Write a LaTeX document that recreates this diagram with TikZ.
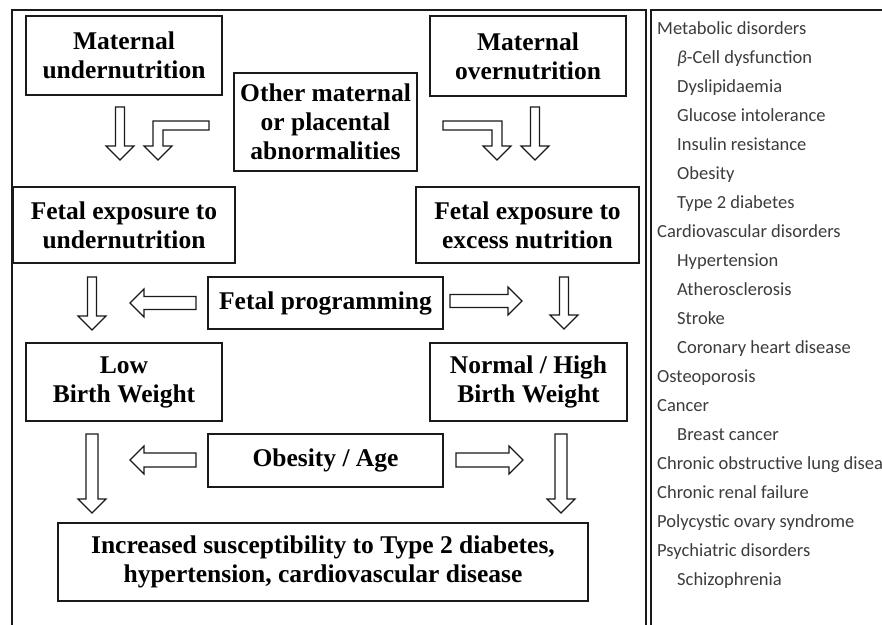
\documentclass[tikz,border=0pt]{standalone}
\usepackage{fontspec}
\setmainfont{Liberation Serif}
\newfontfamily\listfont{Carlito}
\usetikzlibrary{calc}
\definecolor{Ink}{HTML}{1A1A1A}
\definecolor{ListGray}{HTML}{3C3C3C}

\tikzset{
  blk/.style={draw=Ink, line width=1.3pt, fill=white, inner sep=0pt, align=center,
    font=\bfseries\fontsize{25.5}{29}\selectfont},
  hollow/.style={draw=Ink, line width=1.1pt, fill=white, line join=miter},
  frame/.style={draw=Ink, line width=1.5pt},
  item/.style={anchor=base west, inner sep=0pt, text=ListGray,
    font=\listfont\fontsize{18.5}{22}\selectfont}
}

% hollow block arrow: [shaft half width] {start} {tip}
\newcommand{\hollowarrow}[3][4.5]{%
  \path #2 coordinate (ha-s) #3 coordinate (ha-t);
  \path ($(ha-t)!14pt!(ha-s)$) coordinate (ha-h);
  \draw[hollow] ($(ha-s)!#1pt!90:(ha-t)$) -- ($(ha-h)!#1pt!90:(ha-t)$)
    -- ($(ha-h)!14pt!90:(ha-t)$) -- (ha-t) -- ($(ha-h)!14pt!-90:(ha-t)$)
    -- ($(ha-h)!#1pt!-90:(ha-t)$) -- ($(ha-s)!#1pt!-90:(ha-t)$) -- cycle;}

\begin{document}
\begin{tikzpicture}[x={(1pt,0)}, y={(0,-1pt)}]
  \useasboundingbox[fill=white] (0,0) rectangle (882,624);

  % panels
  \draw[frame] (12,630) -- (12,10) -- (646,10) -- (646,630);
  \draw[frame] (890,10) -- (651,10) -- (651,630);

  % boxes
  \node[blk, minimum width=196, minimum height=79] (mu) at (124,55.5) {Maternal\\undernutrition};
  \node[blk, minimum width=196, minimum height=80] (mo) at (528,56) {Maternal\\overnutrition};
  \node[blk, minimum width=183, minimum height=98] (oth) at (325.5,122) {Other maternal\\or placental\\abnormalities};
  \node[blk, minimum width=222, minimum height=76] (fu) at (124,225) {Fetal exposure to\\undernutrition};
  \node[blk, minimum width=223, minimum height=76] (fo) at (527.5,225) {Fetal exposure to\\excess nutrition};
  \node[blk, minimum width=235, minimum height=52] (fp) at (325.5,303) {Fetal programming};
  \node[blk, minimum width=196, minimum height=78] (lbw) at (124,382) {Low\\Birth Weight};
  \node[blk, minimum width=197, minimum height=78] (hbw) at (528.5,382) {Normal / High\\Birth Weight};
  \node[blk, minimum width=235, minimum height=53] (oa) at (325.5,460.5) {Obesity / Age};
  \node[blk, minimum width=530, minimum height=78] (res) at (323,562) {Increased susceptibility to Type 2 diabetes,\\hypertension, cardiovascular disease};

  % arrows, top row
  \hollowarrow{(120,107)}{(120,160)}
  \hollowarrow{(535,107)}{(535,160)}
  \draw[hollow] (209,121) -- (153,121) -- (153,146) -- (144,146) -- (158,160)
    -- (172,146) -- (163,146) -- (163,130) -- (209,130) -- cycle;
  \draw[hollow] (443,121) -- (502,121) -- (502,146) -- (511,146) -- (497,160)
    -- (483,146) -- (492,146) -- (492,130) -- (443,130) -- cycle;

  % arrows, middle row
  \hollowarrow{(92,277)}{(92,330)}
  \hollowarrow{(564,277)}{(564,329)}
  \hollowarrow[6.5]{(196,303)}{(130,303)}
  \hollowarrow[6.5]{(450,301)}{(522,301)}

  % arrows, bottom row
  \hollowarrow[6]{(92,434)}{(92,513)}
  \hollowarrow[6]{(561,434)}{(561,513)}
  \hollowarrow[7]{(196,460)}{(130,460)}
  \hollowarrow[7]{(456,460)}{(523,460)}

  % disease list
  \foreach \lvl/\txt [count=\i] in {0/Metabolic disorders, 1/{{\itshape β}-Cell dysfunction},
      1/Dyslipidaemia, 1/Glucose intolerance, 1/Insulin resistance, 1/Obesity,
      1/Type 2 diabetes, 0/Cardiovascular disorders, 1/Hypertension, 1/Atherosclerosis,
      1/Stroke, 1/Coronary heart disease, 0/Osteoporosis, 0/Cancer, 1/Breast cancer,
      0/Chronic obstructive lung disease, 0/Chronic renal failure,
      0/Polycystic ovary syndrome, 0/Psychiatric disorders, 1/Schizophrenia}
    \node[item] (it\i) at ({657+20*\lvl},{5+29*\i}) {\txt};
\end{tikzpicture}
\end{document}
